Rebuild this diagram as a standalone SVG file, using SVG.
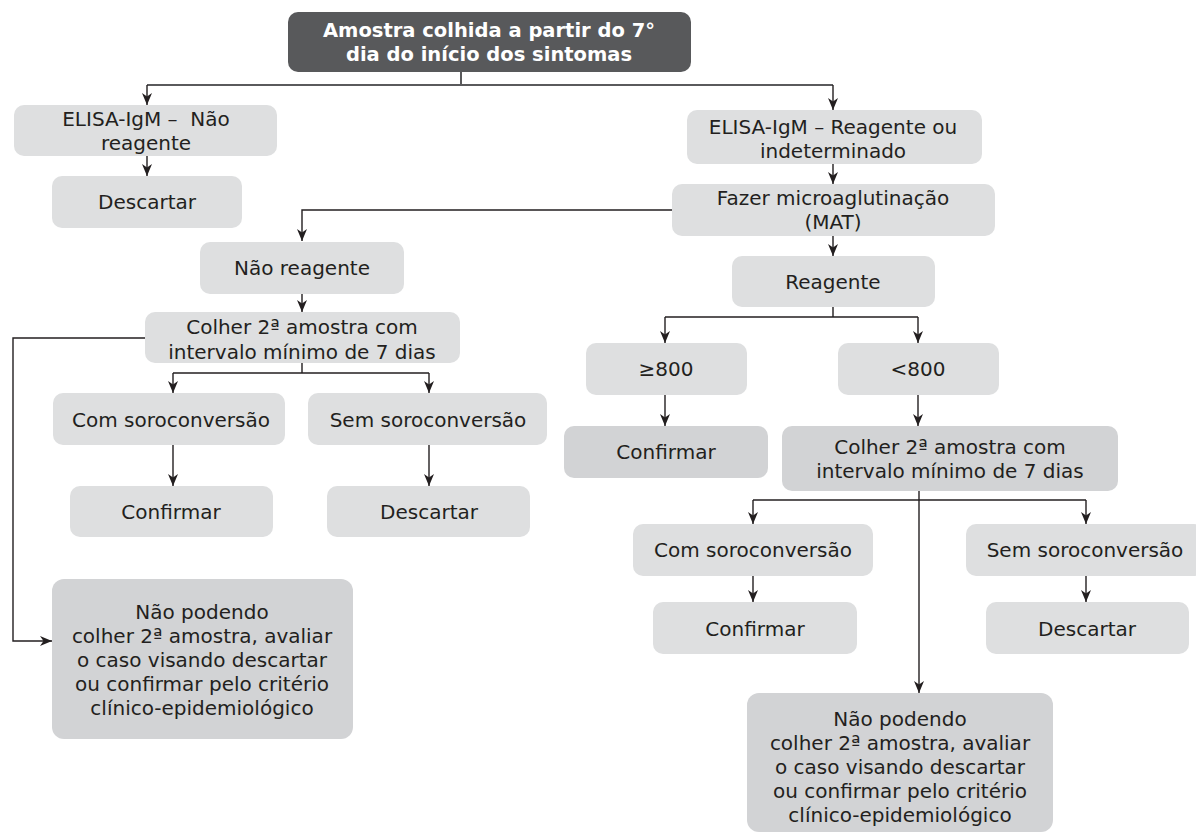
<svg xmlns="http://www.w3.org/2000/svg" width="1196" height="836" viewBox="0 0 1196 836">
<style>
  .n rect { fill: #dedfe0; }
  .d rect { fill: #d2d3d5; }
  text { font-family: "DejaVu Sans", "Open Sans", sans-serif; font-size: 20px; fill: #231f20; text-anchor: middle; }
  .top text { fill: #ffffff; font-weight: bold; font-size: 19.5px; }
  .c path { fill: none; stroke: #231f20; stroke-width: 1.4; }
  .c .g { stroke: #5a5a5c; stroke-width: 2; }
</style>
<defs>
  <marker id="ah" markerUnits="userSpaceOnUse" markerWidth="14" markerHeight="12" refX="12" refY="5" orient="auto">
    <path d="M0,0 L12,5 L0,10 L3.5,5 Z" fill="#231f20"/>
  </marker>
</defs>
<rect width="1196" height="836" fill="#ffffff"/>
<g class="c" id="connectors">
  <path class="g" d="M461,72 V85 H147"/>
  <path class="g" d="M461,85 H833"/>
  <path d="M147,85 V105" marker-end="url(#ah)"/>
  <path d="M833,85 V110" marker-end="url(#ah)"/>
  <path d="M147,156 V176" marker-end="url(#ah)"/>
  <path d="M833,164 V184" marker-end="url(#ah)"/>
  <path d="M672,210 H302 V241" marker-end="url(#ah)"/>
  <path d="M833,236 V256" marker-end="url(#ah)"/>
  <path d="M302,294 V312" marker-end="url(#ah)"/>
  <path d="M145,338 H13 V641 H52" marker-end="url(#ah)"/>
  <path d="M302,363 V373 M173,373 H429"/>
  <path d="M173,373 V393" marker-end="url(#ah)"/>
  <path d="M429,373 V393" marker-end="url(#ah)"/>
  <path d="M173,445 V486" marker-end="url(#ah)"/>
  <path d="M429,445 V486" marker-end="url(#ah)"/>
  <path d="M833,307 V317 M665,317 H918"/>
  <path d="M665,317 V343" marker-end="url(#ah)"/>
  <path d="M918,317 V343" marker-end="url(#ah)"/>
  <path d="M665,395 V426" marker-end="url(#ah)"/>
  <path d="M918,395 V426" marker-end="url(#ah)"/>
  <path d="M919,491 V693" marker-end="url(#ah)"/>
  <path d="M753,500 H1086"/>
  <path d="M753,500 V524" marker-end="url(#ah)"/>
  <path d="M1086,500 V524" marker-end="url(#ah)"/>
  <path d="M753,576 V602" marker-end="url(#ah)"/>
  <path d="M1086,576 V602" marker-end="url(#ah)"/>
</g>
<g id="n_top" class="top">
  <rect x="288" y="12" width="403" height="60" rx="10" fill="#58595b"/>
  <text x="489" y="37">Amostra colhida a partir do 7°<tspan x="489" dy="24">dia do início dos sintomas</tspan></text>
</g>
<g id="n_elisa_neg" class="n">
  <rect x="14" y="105" width="263" height="51" rx="10"/>
  <text x="146" y="126">ELISA-IgM – &#160;Não<tspan x="146" dy="24">reagente</tspan></text>
</g>
<g id="n_descartar1" class="n">
  <rect x="52" y="176" width="190" height="52" rx="10"/>
  <text x="147" y="209">Descartar</text>
</g>
<g id="n_elisa_pos" class="n">
  <rect x="687" y="110" width="295" height="54" rx="10"/>
  <text x="833" y="134">ELISA-IgM – Reagente ou<tspan x="833" dy="24">indeterminado</tspan></text>
</g>
<g id="n_mat" class="n">
  <rect x="672" y="184" width="323" height="52" rx="10"/>
  <text x="833" y="205">Fazer microaglutinação<tspan x="833" dy="24">(MAT)</tspan></text>
</g>
<g id="n_reagente" class="n">
  <rect x="732" y="256" width="203" height="51" rx="10"/>
  <text x="833" y="289">Reagente</text>
</g>
<g id="n_nao_reagente" class="n">
  <rect x="200" y="242" width="204" height="52" rx="10"/>
  <text x="302" y="275">Não reagente</text>
</g>
<g id="n_colher1" class="n">
  <rect x="145" y="312" width="315" height="51" rx="10"/>
  <text x="302" y="334">Colher 2ª amostra com<tspan x="302" dy="25">intervalo mínimo de 7 dias</tspan></text>
</g>
<g id="n_com1" class="n">
  <rect x="53" y="393" width="232" height="52" rx="10"/>
  <text x="171" y="427">Com soroconversão</text>
</g>
<g id="n_sem1" class="n">
  <rect x="308" y="393" width="239" height="52" rx="10"/>
  <text x="428" y="427">Sem soroconversão</text>
</g>
<g id="n_confirmar1" class="n">
  <rect x="70" y="486" width="203" height="51" rx="10"/>
  <text x="171" y="519">Confirmar</text>
</g>
<g id="n_descartar2" class="n">
  <rect x="327" y="486" width="203" height="51" rx="10"/>
  <text x="429" y="519">Descartar</text>
</g>
<g id="n_naopodendo1" class="d">
  <rect x="52" y="579" width="301" height="160" rx="12"/>
  <text x="202" y="619">Não podendo<tspan x="202" dy="24">colher 2ª amostra, avaliar</tspan><tspan x="202" dy="24">o caso visando descartar</tspan><tspan x="202" dy="24">ou confirmar pelo critério</tspan><tspan x="202" dy="24">clínico-epidemiológico</tspan></text>
</g>
<g id="n_ge800" class="n">
  <rect x="586" y="343" width="161" height="52" rx="10"/>
  <text x="666" y="376">≥800</text>
</g>
<g id="n_lt800" class="n">
  <rect x="838" y="343" width="161" height="52" rx="10"/>
  <text x="918" y="376">&lt;800</text>
</g>
<g id="n_confirmar2" class="d">
  <rect x="564" y="426" width="204" height="52" rx="10"/>
  <text x="666" y="459">Confirmar</text>
</g>
<g id="n_colher2" class="d">
  <rect x="782" y="426" width="336" height="65" rx="10"/>
  <text x="950" y="454">Colher 2ª amostra com<tspan x="950" dy="24">intervalo mínimo de 7 dias</tspan></text>
</g>
<g id="n_com2" class="n">
  <rect x="633" y="524" width="240" height="52" rx="10"/>
  <text x="753" y="557">Com soroconversão</text>
</g>
<g id="n_sem2" class="n">
  <rect x="966" y="524" width="238" height="52" rx="10"/>
  <text x="1085" y="557">Sem soroconversão</text>
</g>
<g id="n_confirmar3" class="n">
  <rect x="653" y="602" width="204" height="52" rx="10"/>
  <text x="755" y="636">Confirmar</text>
</g>
<g id="n_descartar3" class="n">
  <rect x="986" y="602" width="203" height="52" rx="10"/>
  <text x="1087" y="636">Descartar</text>
</g>
<g id="n_naopodendo2" class="d">
  <rect x="747" y="693" width="306" height="139" rx="12"/>
  <text x="900" y="726">Não podendo<tspan x="900" dy="24">colher 2ª amostra, avaliar</tspan><tspan x="900" dy="24">o caso visando descartar</tspan><tspan x="900" dy="24">ou confirmar pelo critério</tspan><tspan x="900" dy="24">clínico-epidemiológico</tspan></text>
</g>
</svg>
